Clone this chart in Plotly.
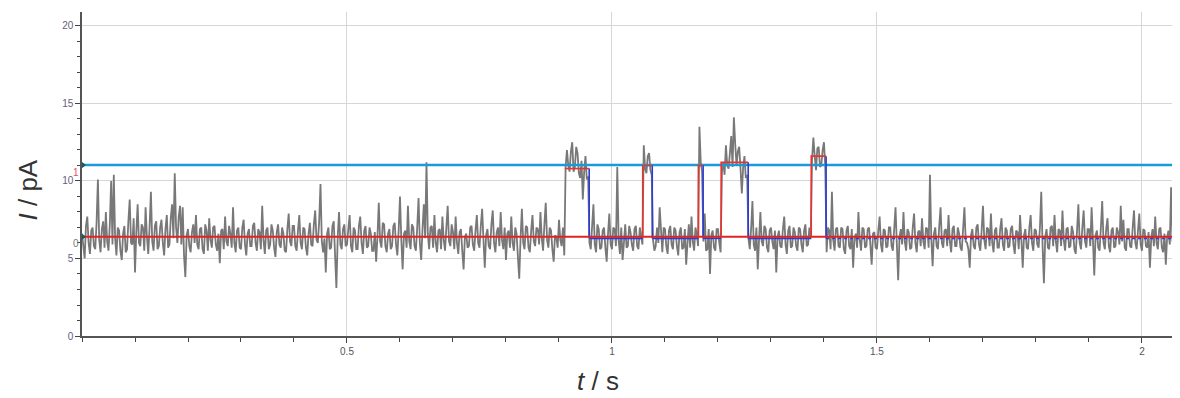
import plotly.graph_objects as go

dt = 0.0025
current_pA = [
    6.6, 5.6, 5.0, 7.1, 7.7, 6.0, 5.3, 6.8, 7.0, 5.8, 5.6, 7.3, 10.1, 6.2, 5.4, 6.9, 7.4, 5.7, 8.0, 6.1, 5.5, 7.2, 10.0, 5.9, 10.4, 6.3, 5.2, 7.0, 6.8, 5.5, 4.9, 6.6, 7.1, 5.4, 5.6, 7.4, 8.8, 6.0, 5.9, 7.6,
    4.1, 6.7, 8.5, 6.0, 5.8, 7.2, 7.0, 5.5, 8.3, 6.4, 5.3, 7.0, 9.3, 6.1, 5.5, 7.1, 7.4, 5.6, 5.8, 7.0, 7.5, 6.0, 5.2, 6.9, 7.8, 5.7, 5.9, 7.6, 8.5, 6.3, 10.5, 7.0, 6.0, 7.7, 8.4, 5.9, 8.3, 5.2, 3.8, 6.5,
    6.9, 5.8, 5.4, 6.7, 7.2, 6.0, 7.8, 5.9, 5.6, 6.9, 7.0, 5.6, 5.3, 7.2, 6.8, 5.5, 7.6, 6.2, 5.7, 7.0, 7.1, 5.9, 5.5, 6.6, 4.7, 6.8, 6.9, 5.6, 7.7, 6.1, 5.8, 7.1, 6.6, 5.7, 8.3, 6.0, 5.4, 6.8, 7.0, 5.7,
    5.6, 7.0, 7.5, 5.9, 5.2, 6.6, 6.9, 5.8, 5.8, 7.1, 7.3, 6.0, 5.5, 6.9, 6.7, 5.6, 8.4, 6.2, 5.3, 6.8, 7.0, 5.6, 5.9, 7.2, 6.8, 5.7, 5.1, 6.7, 7.2, 5.9, 5.7, 7.0, 6.6, 5.5, 5.4, 6.9, 7.9, 6.1, 5.8, 7.1,
    7.1, 5.8, 5.5, 6.8, 7.8, 6.0, 5.6, 7.0, 6.9, 5.7, 5.2, 6.6, 7.3, 5.9, 5.8, 7.2, 8.1, 6.2, 6.0, 7.4, 9.8, 6.1, 5.4, 6.3, 4.1, 6.6, 7.0, 5.6, 5.7, 7.1, 7.4, 5.2, 3.1, 6.4, 8.0, 5.9, 5.6, 6.9, 7.2, 5.8,
    5.9, 6.9, 7.8, 5.8, 5.4, 7.0, 6.8, 5.6, 5.6, 7.1, 7.7, 6.0, 5.3, 6.8, 7.1, 5.7, 5.8, 7.0, 6.6, 5.5, 5.5, 6.7, 4.8, 6.4, 8.6, 6.1, 5.7, 7.3, 7.2, 5.8, 5.4, 6.6, 6.9, 5.6, 5.8, 7.1, 7.3, 5.9, 5.2, 6.8,
    9.0, 6.2, 4.3, 6.6, 6.8, 5.7, 8.4, 6.1, 5.6, 7.2, 7.0, 5.8, 5.5, 7.0, 8.9, 6.0, 4.9, 6.9, 8.5, 6.3, 11.2, 6.6, 5.6, 7.0, 7.1, 5.7, 7.8, 6.0, 5.4, 6.8, 6.9, 5.6, 7.7, 6.2, 5.5, 7.0, 8.4, 6.1, 5.8, 7.2,
    6.7, 5.6, 7.7, 6.0, 5.3, 6.7, 6.9, 5.5, 4.3, 6.4, 6.6, 5.7, 5.8, 7.0, 7.1, 5.9, 5.5, 6.8, 7.8, 6.0, 5.7, 7.1, 8.2, 6.2, 4.4, 6.5, 6.9, 5.8, 5.6, 7.2, 8.1, 6.0, 5.4, 6.7, 7.0, 5.8, 8.0, 6.2, 5.6, 7.0,
    4.9, 6.6, 6.8, 5.7, 7.7, 6.0, 5.5, 7.0, 6.6, 5.1, 3.7, 6.3, 8.2, 6.0, 5.6, 7.1, 7.0, 5.7, 5.4, 6.8, 7.8, 6.1, 5.8, 7.0, 6.9, 5.9, 8.0, 6.3, 5.5, 7.2, 8.6, 6.2, 5.7, 7.0, 6.8, 5.6, 4.8, 6.5, 6.4, 5.7,
    7.5, 6.2, 5.8, 7.0, 5.2, 10.9, 12.0, 11.0, 10.6, 11.9, 12.5, 10.6, 10.9, 12.2, 11.8, 10.5, 10.2, 11.3, 8.8, 10.6, 11.6, 10.1, 10.3, 6.0, 5.6, 7.1, 8.5, 5.9, 5.4, 7.2, 6.9, 5.6, 5.7, 6.8, 7.0, 5.7, 4.8, 6.6, 7.9, 5.9,
    5.6, 7.0, 6.9, 5.8, 10.9, 6.2, 5.3, 7.0, 4.9, 6.0, 7.2, 5.7, 5.8, 7.1, 6.7, 5.9, 5.5, 6.9, 7.1, 5.8, 5.6, 7.0, 6.4, 5.9, 12.3, 10.8, 10.5, 11.6, 11.8, 10.7, 10.4, 6.2, 5.5, 5.8, 7.0, 6.0, 8.3, 6.6, 5.4, 7.0,
    6.9, 5.8, 5.3, 6.8, 7.1, 5.9, 5.6, 7.0, 6.8, 5.8, 5.2, 6.7, 7.0, 5.6, 5.7, 6.9, 4.6, 6.0, 7.2, 5.7, 7.7, 6.1, 5.5, 7.0, 6.6, 5.8, 13.5, 11.2, 10.6, 6.1, 7.9, 5.5, 5.6, 6.9, 4.0, 6.5, 6.8, 5.7, 5.5, 6.9,
    6.9, 6.0, 5.4, 10.6, 11.2, 10.4, 12.3, 11.0, 10.8, 11.8, 12.9, 10.9, 14.1, 12.4, 11.0, 11.9, 12.2, 10.8, 9.2, 10.9, 11.6, 10.2, 10.4, 6.3, 5.6, 6.9, 8.7, 5.9, 5.5, 7.0, 4.3, 6.2, 8.0, 6.1, 5.8, 7.1, 6.9, 5.7, 5.4, 6.8,
    7.0, 6.1, 5.6, 6.8, 4.1, 6.4, 6.8, 5.8, 5.7, 6.9, 7.7, 5.9, 5.3, 6.8, 7.1, 5.7, 5.8, 7.0, 6.7, 5.8, 5.5, 7.0, 6.9, 5.9, 5.4, 6.8, 7.2, 5.8, 5.9, 7.0, 6.3, 11.4, 12.8, 11.6, 10.7, 12.1, 12.2, 10.9, 11.0, 12.0,
    12.5, 10.8, 5.4, 7.0, 6.8, 5.6, 9.3, 6.2, 5.5, 6.9, 7.0, 5.8, 5.7, 7.0, 6.9, 5.6, 5.3, 6.8, 7.1, 5.8, 5.6, 6.9, 4.4, 6.3, 6.6, 5.7, 8.0, 6.2, 5.5, 7.0, 6.9, 5.7, 5.8, 6.9, 7.0, 5.9, 4.6, 6.6, 6.7, 5.7,
    5.6, 6.8, 7.7, 5.9, 5.4, 6.9, 6.8, 5.7, 5.8, 7.0, 7.0, 5.8, 5.5, 6.9, 8.3, 5.9, 3.6, 6.4, 6.9, 5.9, 8.0, 6.1, 5.5, 6.9, 6.7, 5.6, 5.7, 7.0, 7.9, 6.0, 5.4, 6.7, 6.8, 5.8, 7.6, 6.1, 5.6, 7.0, 6.9, 5.7,
    10.4, 6.3, 4.5, 6.6, 7.0, 5.8, 5.6, 7.1, 8.3, 6.0, 5.7, 6.8, 6.9, 5.8, 7.8, 6.1, 5.4, 6.9, 7.1, 5.8, 5.8, 7.0, 6.6, 5.7, 5.5, 6.9, 8.3, 6.1, 6.0, 5.6, 4.4, 6.5, 6.9, 5.8, 5.6, 7.0, 7.2, 5.9, 5.5, 6.8,
    8.4, 6.2, 5.6, 7.0, 6.9, 5.8, 7.9, 6.0, 5.4, 6.8, 7.0, 5.7, 5.7, 6.9, 7.6, 5.9, 5.5, 7.0, 6.8, 5.7, 5.8, 6.9, 7.1, 5.9, 5.3, 6.8, 6.7, 5.6, 7.8, 6.2, 4.4, 6.5, 6.9, 5.7, 5.6, 7.0, 7.8, 6.0, 5.5, 6.9,
    6.8, 5.9, 5.7, 7.0, 9.3, 5.8, 3.4, 6.4, 6.9, 5.7, 5.6, 7.0, 7.1, 5.8, 7.8, 6.1, 5.4, 6.9, 6.8, 5.8, 8.1, 6.2, 5.5, 6.9, 7.0, 5.7, 5.8, 7.1, 6.7, 5.6, 5.3, 6.8, 8.5, 6.0, 5.6, 7.0, 8.1, 6.1, 5.7, 6.9,
    6.9, 5.8, 8.3, 6.2, 3.9, 6.5, 6.8, 5.7, 5.5, 7.0, 8.7, 6.0, 5.6, 6.9, 7.6, 5.8, 5.4, 6.8, 7.0, 5.7, 5.8, 7.0, 6.7, 5.9, 8.4, 6.1, 7.5, 5.7, 5.5, 6.9, 6.9, 5.8, 5.7, 7.0, 8.1, 6.0, 5.6, 6.8, 7.9, 5.9,
    5.5, 6.9, 6.8, 5.8, 5.7, 6.7, 4.4, 6.3, 6.9, 5.8, 7.7, 6.0, 5.6, 6.9, 7.0, 5.7, 5.4, 6.6, 4.6, 6.4, 6.8, 5.9, 9.6, 6.2, 5.6, 6.8, 7.5, 5.9,
]
time_s = [round(i * dt, 5) for i in range(len(current_pA))]

# idealised events: rise time, fall time, open level
event_rise = [0.911, 1.058, 1.163, 1.206, 1.376]
event_fall = [0.957, 1.076, 1.172, 1.257, 1.404]
event_level = [10.8, 11.0, 11.0, 11.2, 11.6]
closed_level_ideal = 6.3
level_closed = 6.4   # level "0"
level_open = 11.03   # level "1"
t_end = 2.068

x_ticks = [0.5, 1, 1.5, 2]
x_ticklabels = ["0.5", "1", "1.5", "2"]
y_ticks = [0, 5, 10, 15, 20]

fig = go.Figure()

fig.add_trace(go.Scatter(x=time_s, y=current_pA, mode="lines",
                         line=dict(color="#787878", width=1.8), hoverinfo="skip"))

# open level line
fig.add_trace(go.Scatter(x=[0, t_end], y=[level_open, level_open], mode="lines",
                         line=dict(color="#1a9ad8", width=2.5)))

# blue closed segments (falls)
for k in range(len(event_fall)):
    nxt = event_rise[k + 1] if k + 1 < len(event_rise) else t_end
    dash = "solid" if k + 1 < len(event_rise) else "dot"
    fig.add_trace(go.Scatter(x=[event_fall[k], event_fall[k]], y=[event_level[k], closed_level_ideal],
                             mode="lines", line=dict(color="#2a3bd6", width=1.6)))
    fig.add_trace(go.Scatter(x=[event_fall[k], nxt], y=[closed_level_ideal, closed_level_ideal],
                             mode="lines", line=dict(color="#2a3bd6", width=1.6, dash=dash)))

# closed level line
fig.add_trace(go.Scatter(x=[0, t_end], y=[level_closed, level_closed], mode="lines",
                         line=dict(color="#e02424", width=2)))

# red open segments (rises)
for k in range(len(event_rise)):
    if k == 0:
        xs = [event_rise[k], event_fall[k]]
        ys = [event_level[k], event_level[k]]
    else:
        xs = [event_rise[k], event_rise[k], event_fall[k]]
        ys = [level_closed, event_level[k], event_level[k]]
    fig.add_trace(go.Scatter(x=xs, y=ys, mode="lines", line=dict(color="#e8332f", width=1.6)))

# level markers on the y axis
fig.add_trace(go.Scatter(x=[0, 0], y=[level_open, level_closed], mode="markers",
                         marker=dict(symbol="triangle-right", size=8, color="#1d5a5a"),
                         cliponaxis=False))

fig.add_annotation(xref="paper", yref="y", x=-0.0005, y=10.55, text="1", showarrow=False,
                   font=dict(size=10, color="#e0506a", family="Arial"), xanchor="right")
fig.add_annotation(xref="paper", yref="y", x=-0.0005, y=5.95, text="0", showarrow=False,
                   font=dict(size=10, color="#777777", family="Arial"), xanchor="right")

# axis titles
fig.add_annotation(xref="paper", yref="paper", x=0.471, y=-0.085, text="<i>t</i> / s",
                   showarrow=False, xanchor="center", yanchor="top",
                   font=dict(size=26, color="#333333", family="Arial, Liberation Sans, sans-serif"))
fig.add_annotation(xref="paper", yref="paper", x=-0.049, y=0.45, text="<i>I</i> / pA",
                   showarrow=False, xanchor="center", yanchor="middle", textangle=-90,
                   font=dict(size=26, color="#333333", family="Arial, Liberation Sans, sans-serif"))

fig.update_layout(
    width=1172, height=390,
    margin=dict(l=74, r=2, t=4, b=62, autoexpand=False),
    paper_bgcolor="white", plot_bgcolor="white",
    showlegend=False,
    font=dict(family="Arial, Liberation Sans, sans-serif", color="#555555"),
)
fig.update_xaxes(
    range=[0, t_end], tickvals=x_ticks, ticktext=x_ticklabels, automargin=False,
    showgrid=True, gridcolor="#d6d6d6", gridwidth=1, zeroline=False,
    showline=True, linecolor="#555555", linewidth=1.5,
    ticks="outside", ticklen=5, tickcolor="#444444",
    minor=dict(dtick=0.1, tick0=0, ticks="outside", ticklen=4, tickcolor="#444444", showgrid=False),
    tickfont=dict(size=10, color="#555555"),
)
fig.update_yaxes(
    range=[0, 20.9], tickvals=y_ticks, automargin=False,
    showgrid=True, gridcolor="#d6d6d6", gridwidth=1, zeroline=False,
    showline=True, linecolor="#555555", linewidth=1.5,
    ticks="outside", ticklen=5, tickcolor="#444444",
    minor=dict(dtick=1, tick0=0, ticks="outside", ticklen=3, tickcolor="#444444", showgrid=False),
    tickfont=dict(size=10, color="#6a5a7a"),
)

fig.write_html("out.html")
